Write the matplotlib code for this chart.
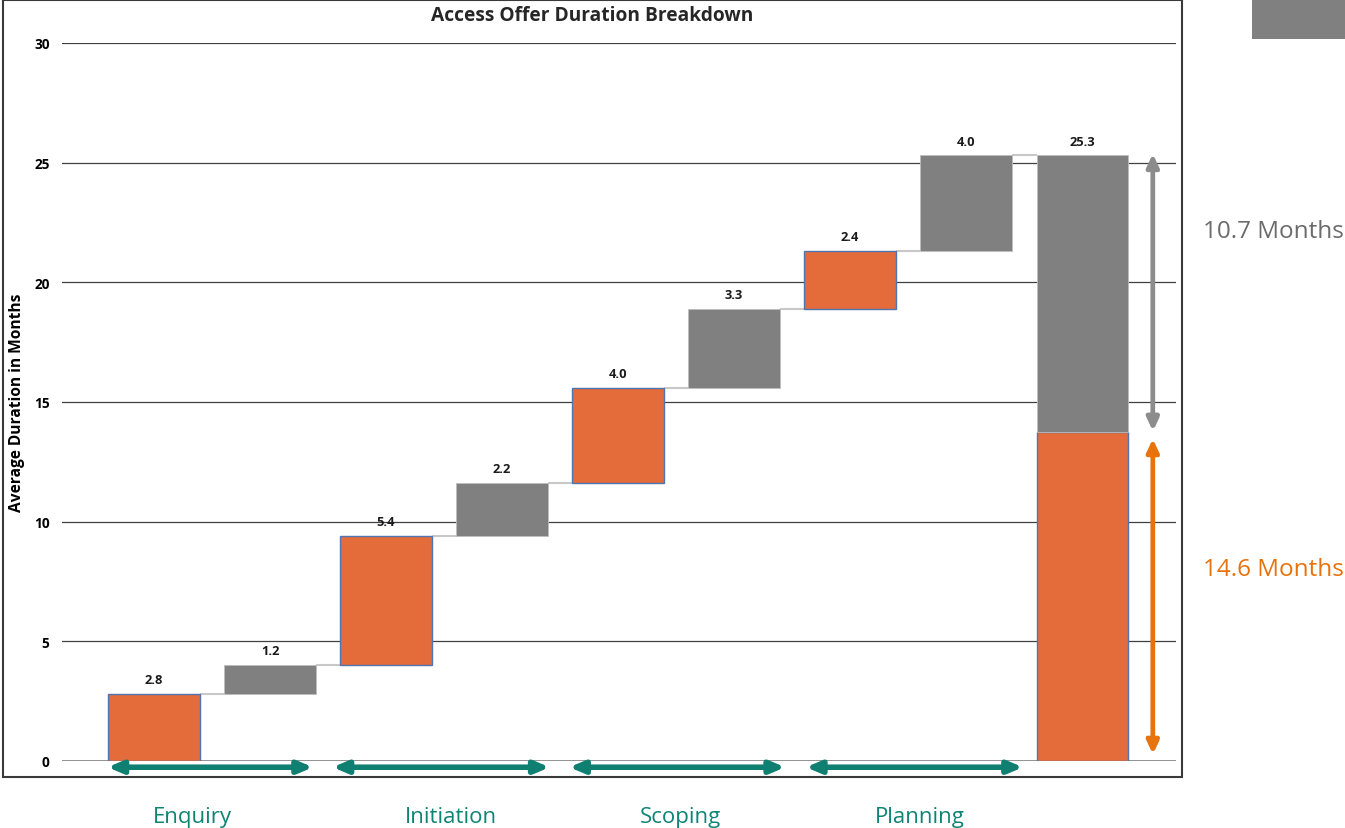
import matplotlib
matplotlib.use("Agg")
import matplotlib.pyplot as plt
import matplotlib.patheffects as pe
from matplotlib.patches import Rectangle
import numpy as np

plt.rcParams['font.family'] = ['Open Sans', 'DejaVu Sans']

# ---- data ----
steps = [2.8, 1.2, 5.4, 2.2, 4.0, 3.3, 2.4, 4.0]
step_kind = ['o', 'g', 'o', 'g', 'o', 'g', 'o', 'g']
total = 25.3
total_orange_part = 13.75
label_texts = ['2.8', '1.2', '5.4', '2.2', '4.0', '3.3', '2.4', '4.0', '25.3']
phases = ['Enquiry', 'Initiation', 'Scoping', 'Planning']
phase_spans = [(-0.40, 1.37), (1.54, 3.41), (3.58, 5.44), (5.62, 7.49)]
phase_label_x = [0.33, 2.56, 4.54, 6.60]
orange_total_label = '14.6 Months'
gray_total_label = '10.7 Months'
yticks = [0, 5, 10, 15, 20, 25, 30]

ORANGE = '#E46C3A'
GRAY = '#808080'
EDGE = '#4F75B0'
TEAL = '#0E7F71'

W, H = 1345, 829
fig = plt.figure(figsize=(W / 100, H / 100), dpi=100)
ax = fig.add_axes([62 / W, 1 - 762 / H, (1176 - 62) / W, 718 / H])

x = np.arange(len(steps) + 1)
bw = 0.785
bottoms = np.concatenate([[0], np.cumsum(steps)[:-1]])
tops = bottoms + np.array(steps)

for i, (b, v, k) in enumerate(zip(bottoms, steps, step_kind)):
    if k == 'o':
        ax.bar(x[i], v, bottom=b, width=bw, color=ORANGE, edgecolor=EDGE, linewidth=1, zorder=3)
    else:
        ax.bar(x[i], v, bottom=b, width=bw, color=GRAY, edgecolor='#bdbdbd', linewidth=0.6, zorder=3)
# total bar
ax.bar(x[-1], total_orange_part, width=bw, color=ORANGE, edgecolor=EDGE, linewidth=1, zorder=3)
ax.bar(x[-1], total - total_orange_part, bottom=total_orange_part, width=bw,
       color=GRAY, edgecolor='#bdbdbd', linewidth=0.6, zorder=3)

# connectors
for i in range(len(steps)):
    ax.plot([x[i] + bw / 2, x[i + 1] - bw / 2], [tops[i], tops[i]],
            color='#c8c8c8', lw=1.5, zorder=2, solid_capstyle='butt')

# value labels
label_tops = list(tops) + [total]
for i, t in enumerate(label_tops):
    ax.text(x[i], t + 0.33, label_texts[i], ha='center', va='bottom',
            fontsize=9.3, fontweight='bold', color='#1a1a1a', zorder=4)

ax.set_xlim(-0.793, 8.81)
ax.set_ylim(0, 30)
ax.set_yticks(yticks)
ax.set_xticks([])
ax.tick_params(axis='y', length=0, pad=9, labelsize=9.8)
for lab in ax.get_yticklabels():
    lab.set_fontweight('bold')
ax.grid(axis='y', color='#404040', lw=0.9, zorder=0)
ax.set_axisbelow(True)
for s in ax.spines.values():
    s.set_visible(False)
ax.axhline(0, color='#8a8a8a', lw=2, zorder=1)
ax.set_ylabel('Average Duration in Months', fontsize=11.2, fontweight='bold')
ax.yaxis.set_label_coords(-0.033, 0.5)
fig.text(592.5 / W, 1 - 16 / H, 'Access Offer Duration Breakdown', ha='center', va='center',
         fontsize=13.8, fontweight='bold', color='#262626')

shadow = [pe.SimplePatchShadow(offset=(1.5, -1.5), alpha=0.35), pe.Normal()]


def darrow(x0, y0, x1, y1, color, lw, hw, hl):
    a = ax.annotate('', xy=(x1, y1), xytext=(x0, y0),
                    arrowprops=dict(arrowstyle=f'<|-|>,head_width={hw},head_length={hl}',
                                    color=color, lw=lw, shrinkA=0, shrinkB=0),
                    annotation_clip=False, zorder=5)
    a.arrow_patch.set_path_effects(shadow)
    return a


darrow(8.61, 25.37, 8.61, 13.79, '#8c8c8c', 3.4, 0.35, 0.75)
darrow(8.61, 13.46, 8.61, 0.29, '#E8730C', 3.4, 0.35, 0.75)

# bottom phase arrows
for (s0, s1) in phase_spans:
    darrow(s0, -0.26, s1, -0.26, TEAL, 4.0, 0.36, 0.85)

for name, lx in zip(phases, phase_label_x):
    ax.text(lx, -2.30, name, ha='center', va='center', fontsize=16,
            color='#0E8474', clip_on=False)

# right side texts
fig.text(1273 / W, 1 - 232 / H, gray_total_label, ha='center', va='center',
         fontsize=17.5, color='#6b6b6b')
fig.text(1273 / W, 1 - 570 / H, orange_total_label, ha='center', va='center',
         fontsize=17.5, color='#E8730C')

# frame and top-right box
fig.add_artist(Rectangle((3 / W, 1 - 778 / H), (1182 - 3) / W, 777 / H,
                         transform=fig.transFigure, fill=False, edgecolor='#3a3a3a', lw=1.5))
fig.add_artist(Rectangle((1252 / W, 1 - 40 / H), (1345 - 1252) / W, 40 / H,
                         transform=fig.transFigure, facecolor=GRAY, edgecolor='none'))

fig.savefig('out.png', dpi=100)
